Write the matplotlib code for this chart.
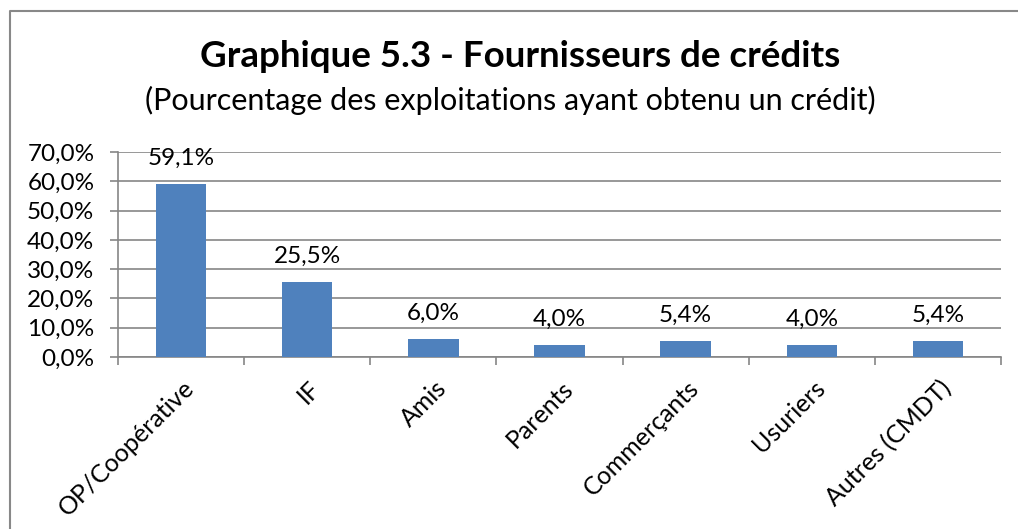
import matplotlib.pyplot as plt
import numpy as np
from matplotlib.lines import Line2D

# data
categories = ["OP/Coopérative", "IF", "Amis", "Parents", "Commerçants",
              "Usuriers", "Autres (CMDT)"]
values = [59.1, 25.5, 6.0, 4.0, 5.4, 4.0, 5.4]
yticks = [0, 10, 20, 30, 40, 50, 60, 70]

title = "Graphique 5.3 - Fournisseurs de crédits"
subtitle = "(Pourcentage des exploitations ayant obtenu un crédit)"

BLUE = "#4F81BD"
GRID = "#868686"

plt.rcParams["font.family"] = ["Lato", "DejaVu Sans"]

W, H = 1018, 529
fig = plt.figure(figsize=(W / 100, H / 100), dpi=100)
ax = fig.add_axes([118 / W, 1 - 357 / H, (1001 - 118) / W, (357 - 152) / H])

x = np.arange(len(categories))
ax.bar(x, values, width=0.4, color=BLUE, zorder=3)

for xi, v in zip(x, values):
    lbl = f"{v:.1f}%".replace(".", ",")
    ax.annotate(lbl, (xi, v), xytext=(0, 14), textcoords="offset points",
                ha="center", va="baseline", fontsize=17.5, color="black")

ax.set_xlim(-0.5, len(categories) - 0.5)
ax.set_ylim(0, 70)
ax.set_yticks(yticks)
ax.set_yticklabels([f"{t:.1f}%".replace(".", ",") for t in yticks], fontsize=17.5)
ax.yaxis.grid(True, color=GRID, lw=1.2, zorder=0)
ax.tick_params(axis="y", length=6, color=GRID, width=1.2, pad=11)

# ticks between categories, labels at centres
ax.set_xticks(np.arange(len(categories) + 1) - 0.5)
ax.set_xticklabels([])
ax.tick_params(axis="x", length=6, color=GRID, width=1.2)
for xi, c in zip(x, categories):
    ax.annotate(c, (xi, 0), xytext=(1, -14), textcoords="offset points",
                rotation=45, ha="right", va="top", rotation_mode="anchor",
                fontsize=18)

for s in ["top", "right"]:
    ax.spines[s].set_visible(False)
for s in ["left", "bottom"]:
    ax.spines[s].set_color(GRID)
    ax.spines[s].set_linewidth(1.2)

fig.text(520 / W, 1 - 67 / H, title, ha="center", va="baseline",
         fontsize=26.5, fontweight="bold")
fig.text(510 / W, 1 - 110 / H, subtitle, ha="center", va="baseline",
         fontsize=22)

# chart border (only top and left visible in the crop)
bx, by = 10 / W, 1 - 11 / H
fig.add_artist(Line2D([bx, bx, 1.0], [0.0, by, by], color="#888888", lw=1.5,
                      transform=fig.transFigure))

fig.savefig("out.png", dpi=100)
